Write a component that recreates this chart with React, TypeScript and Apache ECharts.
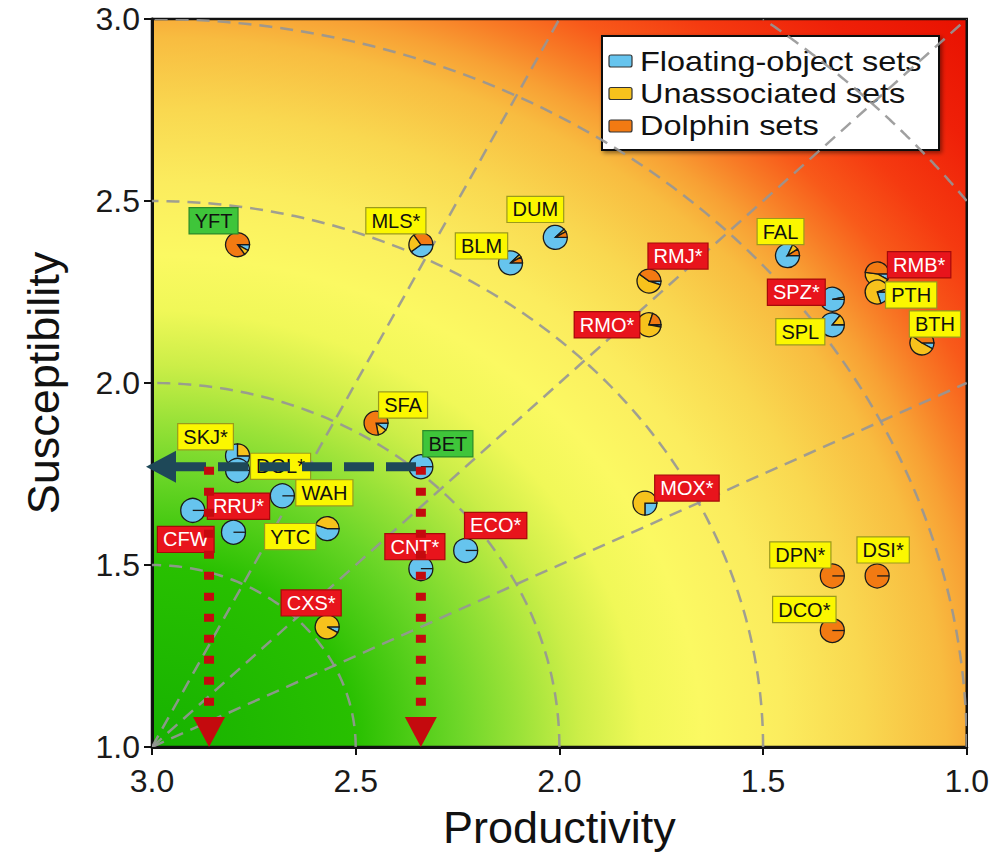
import React, { useEffect, useRef } from "react";
import * as echarts from "echarts";

const FONT = "'Liberation Sans', Arial, Helvetica, sans-serif";

// ---------------- data ----------------
const species = ["YFT", "MLS*", "BLM", "DUM", "RMJ*", "RMO*", "FAL", "SPZ*", "SPL", "RMB*", "PTH", "BTH", "SFA", "SKJ*", "DOL*", "BET", "WAH", "RRU*", "CFW", "YTC", "CNT*", "ECO*", "CXS*", "MOX*", "DPN*", "DSI*", "DCO*"];
const productivity = [2.79, 2.34, 2.12, 2.01, 1.78, 1.78, 1.44, 1.33, 1.33, 1.22, 1.22, 1.11, 2.45, 2.79, 2.79, 2.34, 2.68, 2.8, 2.9, 2.57, 2.34, 2.23, 2.57, 1.79, 1.33, 1.22, 1.33];
const susceptibility = [2.38, 2.38, 2.33, 2.4, 2.28, 2.16, 2.35, 2.23, 2.16, 2.3, 2.25, 2.11, 1.89, 1.8, 1.76, 1.77, 1.69, 1.59, 1.65, 1.6, 1.49, 1.54, 1.33, 1.67, 1.47, 1.47, 1.32];
// share of catch by set type (%)
const floatingShare = [8, 40, 88, 88, 5, 3, 82, 97, 86, 8, 20, 8, 10, 75, 100, 100, 100, 100, 100, 55, 100, 100, 8, 25, 0, 0, 0];
const unassociatedShare = [7, 25, 4, 4, 55, 77, 9, 3, 14, 44, 75, 52, 12, 25, 0, 0, 0, 0, 0, 45, 0, 0, 92, 75, 0, 0, 0];
const dolphinShare = [85, 35, 8, 8, 40, 20, 9, 0, 0, 48, 5, 40, 78, 0, 0, 0, 0, 0, 0, 0, 0, 0, 0, 0, 100, 100, 100];
const statusGroup = ["green", "yellow", "yellow", "yellow", "red", "red", "yellow", "red", "yellow", "red", "yellow", "yellow", "yellow", "yellow", "yellow", "green", "yellow", "red", "red", "yellow", "red", "red", "red", "red", "yellow", "yellow", "yellow"];

const legendNames = ["Floating-object sets", "Unassociated sets", "Dolphin sets"];
const xTicks = [1.0, 1.5, 2.0, 2.5, 3.0];
const yTicks = [1.0, 1.5, 2.0, 2.5, 3.0];

// reference guides (vulnerability contours around the origin P=3, S=1)
const guideOrigin = [3.0, 1.0];
const arcRadii = [0.5, 1.0, 1.5, 2.0, 2.5];
const rayEnds = [[1.0, 2.0], [1.0, 3.0], [2.0, 3.0]];

// background colour ramp by vulnerability (distance from origin)
const vulnStops = [0, 0.5, 0.75, 0.9, 1.05, 1.2, 1.35, 1.55, 1.75, 1.95, 2.05, 2.15, 2.25, 2.4, 2.6, 2.84];
const vulnColors = ["#16b200", "#28c000", "#6cd628", "#9ae238", "#ccee48", "#f0f858", "#fbf962", "#fbec5e", "#f9d850", "#f8bc40", "#f8a034", "#f87c26", "#f85a1a", "#f53a10", "#ef2008", "#e81000"];

// example arrows (BET)
const arrowLevel = 1.77;
const arrowStartX = 2.34;
const arrowDropXs = [2.86, 2.34];

// ---------------- layout / style ----------------
const labelDx = [-24, -25, -29, -20, 29, -42, -7, -36, -32, 42, 34, 13, 27, -32, 43, 27, 42, 5, -7, -37, -6, 30, -16, 42, -32, 6, -28];
const labelDy = [-24, -24, -17, -28, -25, 0, -24, -7, 7, -9, 3, -19, -18, -19, -4, -23, -3, -26, 29, 8, -22, -25, -24, -15, -21, -26, -21];

const W = 992;
const H = 856;
const GRID = { left: 152, right: 25, top: 19, bottom: 109 };
const SLICE_COLORS = ["#66c4ee", "#f7c21c", "#f27a12"];
const BOX = {
  green: { bg: "#3fc53a", border: "#2d8a2a", text: "#111" },
  yellow: { bg: "#fbf700", border: "#9b9a1c", text: "#111" },
  red: { bg: "#e8141c", border: "#a50a0a", text: "#ffffff" },
} as Record<string, { bg: string; border: string; text: string }>;

export default function App() {
  const ref = useRef<HTMLDivElement>(null);

  useEffect(() => {
    const chart = echarts.init(ref.current!, null, { renderer: "svg" });

    // radius of the gradient in grid-box fractions: the box spans 2 units on each axis
    const vMax = vulnStops[vulnStops.length - 1];
    const bg = new echarts.graphic.RadialGradient(
      0,
      1,
      vMax / 2,
      vulnStops.map((v, k) => ({ offset: v / vMax, color: vulnColors[k] }))
    );

    const pieData = species.map((s, i) => [productivity[i], susceptibility[i], floatingShare[i], unassociatedShare[i], dolphinShare[i]]);

    const guideStyle = { stroke: "rgba(150,150,150,0.9)", lineWidth: 2.5, lineDash: [13, 8], fill: "none" };

    const option: any = {
      animation: false,
      backgroundColor: "#ffffff",
      grid: {
        ...GRID,
        show: true,
        backgroundColor: bg,
        borderColor: "#111",
        borderWidth: 2.5,
      },
      xAxis: {
        type: "value",
        inverse: true,
        min: 1,
        max: 3,
        interval: 0.5,
        name: "Productivity",
        nameLocation: "middle",
        nameGap: 58,
        nameTextStyle: { fontSize: 45, color: "#111", fontFamily: FONT },
        axisLine: { show: true, lineStyle: { color: "#111", width: 3 } },
        axisTick: { show: true, length: 8, lineStyle: { color: "#111", width: 2 } },
        axisLabel: {
          fontSize: 32,
          color: "#1a1a1a",
          fontFamily: FONT,
          margin: 18,
          formatter: (v: number) => (xTicks.includes(v) ? v.toFixed(1) : ""),
        },
        splitLine: { show: false },
      },
      yAxis: {
        type: "value",
        min: 1,
        max: 3,
        interval: 0.5,
        name: "Susceptibility",
        nameLocation: "middle",
        nameGap: 86,
        nameTextStyle: { fontSize: 45, color: "#111", fontFamily: FONT },
        axisLine: { show: true, lineStyle: { color: "#111", width: 3 } },
        axisTick: { show: true, length: 8, lineStyle: { color: "#111", width: 2 } },
        axisLabel: {
          fontSize: 32,
          color: "#1a1a1a",
          fontFamily: FONT,
          margin: 12,
          formatter: (v: number) => (yTicks.includes(v) ? v.toFixed(1) : ""),
        },
        splitLine: { show: false },
      },
      series: [
        {
          type: "custom",
          name: "guides",
          coordinateSystem: "cartesian2d",
          z: 1,
          silent: true,
          clip: true,
          data: [[2, 2]],
          renderItem: (params: any, api: any) => {
            const children: any[] = [];
            arcRadii.forEach((r) => {
              const span = 2.0;
              const t0 = r > span ? Math.acos(span / r) : 0;
              const t1 = r > span ? Math.asin(span / r) : Math.PI / 2;
              const pts: number[][] = [];
              const n = 120;
              for (let k = 0; k <= n; k++) {
                const t = t0 + ((t1 - t0) * k) / n;
                pts.push(api.coord([guideOrigin[0] - r * Math.cos(t), guideOrigin[1] + r * Math.sin(t)]));
              }
              children.push({ type: "polyline", shape: { points: pts }, style: guideStyle });
            });
            const o = api.coord(guideOrigin);
            rayEnds.forEach((e) => {
              const p = api.coord(e);
              children.push({ type: "line", shape: { x1: o[0], y1: o[1], x2: p[0], y2: p[1] }, style: guideStyle });
            });
            return { type: "group", children };
          },
        },
        {
          type: "custom",
          name: "species",
          coordinateSystem: "cartesian2d",
          z: 3,
          data: pieData,
          renderItem: (params: any, api: any) => {
            const i = params.dataIndex;
            const c = api.coord([api.value(0), api.value(1)]);
            const shares = [api.value(2), api.value(3), api.value(4)];
            const total = shares[0] + shares[1] + shares[2];
            const R = 12;
            const children: any[] = [];
            let a = 0;
            let count = 0;
            shares.forEach((s: number, k: number) => {
              if (s <= 0) return;
              count++;
              const end = a + (s / total) * Math.PI * 2;
              children.push({
                type: "sector",
                shape: { cx: c[0], cy: c[1], r: R, r0: 0, startAngle: a, endAngle: end, clockwise: true },
                style: { fill: SLICE_COLORS[k], stroke: "#1a1a1a", lineWidth: 1.3 },
              });
              a = end;
            });
            if (count === 1) {
              children.push({
                type: "line",
                shape: { x1: c[0], y1: c[1], x2: c[0] + R, y2: c[1] },
                style: { stroke: "#1a1a1a", lineWidth: 1.3 },
              });
            }
            const b = BOX[statusGroup[i]];
            children.push({
              type: "text",
              x: c[0] + labelDx[i],
              y: c[1] + labelDy[i],
              style: {
                text: species[i],
                font: `20px ${FONT}`,
                fill: b.text,
                align: "center",
                verticalAlign: "middle",
                backgroundColor: b.bg,
                borderColor: b.border,
                borderWidth: 1.2,
                padding: [3, 5, 2, 5],
              },
            });
            return { type: "group", children };
          },
        },
        {
          type: "custom",
          name: "arrows",
          coordinateSystem: "cartesian2d",
          z: 5,
          silent: true,
          data: [[2, 2]],
          renderItem: (params: any, api: any) => {
            const children: any[] = [];
            // horizontal dashed arrow to susceptibility axis
            const s = api.coord([arrowStartX, arrowLevel]);
            const e = api.coord([3.0, arrowLevel]);
            const tipX = e[0] - 6;
            const baseX = tipX + 30;
            children.push({
              type: "line",
              shape: { x1: baseX, y1: s[1], x2: s[0], y2: s[1] },
              style: { stroke: "#1e4858", lineWidth: 9, lineDash: [30, 12] },
            });
            children.push({
              type: "polygon",
              shape: { points: [[tipX, s[1]], [baseX, s[1] - 16], [baseX, s[1] + 16]] },
              style: { fill: "#1e4858" },
            });
            // vertical dotted arrows to productivity axis
            arrowDropXs.forEach((x) => {
              const top = api.coord([x, arrowLevel]);
              const bot = api.coord([x, 1.0]);
              const tipY = bot[1];
              const baseY = tipY - 30;
              children.push({
                type: "line",
                shape: { x1: top[0], y1: top[1], x2: top[0], y2: baseY },
                style: { stroke: "#c40a0e", lineWidth: 10, lineDash: [8, 13] },
              });
              children.push({
                type: "polygon",
                shape: { points: [[top[0], tipY], [top[0] - 16, baseY], [top[0] + 16, baseY]] },
                style: { fill: "#c40a0e" },
              });
            });
            return { type: "group", children };
          },
        },
      ],
      graphic: [
        {
          type: "group",
          x: 0,
          y: 0,
          z: 100,
          children: [
            {
              type: "rect",
              shape: { x: 602, y: 36, width: 337, height: 114 },
              style: {
                fill: "#ffffff",
                stroke: "#111",
                lineWidth: 2,
                shadowBlur: 4,
                shadowOffsetX: 2,
                shadowOffsetY: 2,
                shadowColor: "rgba(0,0,0,0.45)",
              },
            },
            ...legendNames.map((n, k) => ({
              type: "rect",
              shape: { x: 609, y: 55 + 32.5 * k, width: 23, height: 12, r: 2 },
              style: { fill: SLICE_COLORS[k], stroke: "#333", lineWidth: 1.2 },
            })),
            ...legendNames.map((n, k) => ({
              type: "text",
              x: 640,
              y: 61 + 32 * k,
              scaleX: 1.16,
              style: { text: n, font: `28px ${FONT}`, fill: "#111", align: "left", verticalAlign: "middle" },
            })),
          ],
        },
      ],
    };

    chart.setOption(option);
    return () => chart.dispose();
  }, []);

  return <div ref={ref} style={{ position: "fixed", left: 0, top: 0, width: W, height: H }} />;
}
